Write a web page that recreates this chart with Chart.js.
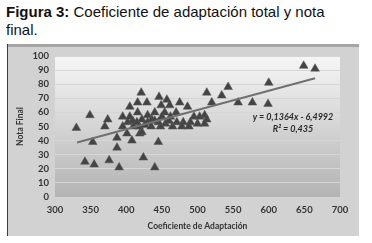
<!DOCTYPE html>
<html>
<head>
<meta charset="utf-8">
<style>
    body {
        margin: 0;
        width: 372px;
        height: 243px;
        overflow: hidden;
        position: relative;
        background: #fff;
        font-family: "Liberation Sans", Arial, sans-serif;
    }
    #caption {
        position: absolute;
        left: 6px;
        top: 3px;
        font-size: 15px;
        line-height: 18px;
        color: #111;
    }
    #frame {
        position: absolute;
        left: 7px;
        top: 44px;
        width: 352px;
        height: 192px;
        background: #d2d2d2;
        box-shadow: inset 1px 0 0 #3c3c3c, inset 0 3px 0 #a5a5a5;
    }
</style>
<script src="https://cdn.jsdelivr.net/npm/chart.js"></script>
</head>
<body>
<div id="caption"><b>Figura 3:</b> Coeficiente de adaptación total y nota<br>final.</div>
<div id="frame"><canvas id="myChart" width="352" height="192"></canvas></div>
<script>
// values
var coefAdaptacion = [
    330, 349, 353, 342, 355, 376, 390, 424, 440, 387, 387, 408, 445, 370, 374, 395, 402, 401, 419, 422,
    421, 416, 429, 405, 416, 446, 457, 449, 461, 475, 486, 454, 470,
    409, 415, 422, 430, 436, 440, 445, 410, 418, 426, 435, 448, 455, 460, 465, 471, 480, 490, 478, 488,
    395, 405, 430, 440, 450, 462, 495, 500,
    503, 510, 513, 510, 513, 534, 543, 557, 577, 599, 600, 649, 665, 520
];
var notaFinal = [
    49, 58, 39, 25, 23, 26, 21, 28, 21, 42, 35, 40, 39, 50, 55, 57, 53, 45, 45, 46,
    74, 67, 67, 64, 60, 71, 69, 65, 65, 67, 64, 60, 60,
    54, 53, 55, 53, 55, 54, 53, 50, 50, 51, 50, 50, 52, 54, 50, 53, 53, 53, 50, 50,
    50, 57, 58, 60, 57, 57, 57, 52,
    57, 58, 55, 52, 74, 72, 78, 67, 67, 66, 81, 93, 91, 67
];
// trendline ends as drawn
var trendX = [331, 665];
var trendY = [38.6, 84.2];
var xTicks = [300, 350, 400, 450, 500, 550, 600, 650, 700];
var yTicks = [0, 10, 20, 30, 40, 50, 60, 70, 80, 90, 100];
var equationLines = ['y = 0,1364x - 6,4992', 'R² = 0,435'];

var points = coefAdaptacion.map(function(x, i) { return {x: x, y: notaFinal[i]}; });
var trend = trendX.map(function(x, i) { return {x: x, y: trendY[i]}; });

var plotBg = {
    id: 'plotBg',
    beforeDraw: function(chart) {
        var ctx = chart.ctx, a = chart.chartArea;
        var g = ctx.createLinearGradient(0, a.top, 0, a.bottom);
        g.addColorStop(0, '#f6f6f6');
        g.addColorStop(1, '#b3b3b3');
        ctx.save();
        ctx.fillStyle = g;
        ctx.fillRect(a.left, a.top, a.right - a.left, a.bottom - a.top);
        ctx.restore();
    }
};

var equation = {
    id: 'equation',
    afterDatasetsDraw: function(chart) {
        var ctx = chart.ctx;
        var cx = chart.scales.x.getPixelForValue(634);
        ctx.save();
        ctx.font = 'italic bold 9px Lato';
        ctx.fillStyle = '#2a2a2a';
        ctx.textAlign = 'center';
        ctx.textBaseline = 'middle';
        ctx.fillText(equationLines[0], cx, chart.scales.y.getPixelForValue(56.7));
        ctx.fillText(equationLines[1], cx, chart.scales.y.getPixelForValue(48.2));
        ctx.restore();
    }
};

var tickFont = {family: 'Lato', size: 9.5, weight: 'bold'};

var ctx = document.getElementById('myChart').getContext('2d');
var myChart = new Chart(ctx, {
    type: 'scatter',
    data: {
        datasets: [{
            type: 'line',
            data: trend,
            borderColor: '#707070',
            borderWidth: 2,
            pointRadius: 0,
            fill: false,
            order: 0
        }, {
            data: points,
            pointStyle: 'triangle',
            pointRadius: 5,
            backgroundColor: '#444',
            borderColor: '#555',
            borderWidth: 0.5,
            order: 1
        }]
    },
    options: {
        responsive: false,
        animation: false,
        layout: {padding: {top: 12, right: 19, left: 0, bottom: 0}},
        plugins: {legend: {display: false}, tooltip: {enabled: false}},
        scales: {
            x: {
                type: 'linear',
                min: 300,
                max: 700,
                afterBuildTicks: function(s) { s.ticks = xTicks.map(function(v) { return {value: v}; }); },
                afterFit: function(s) { s.height = 39; },
                grid: {display: false, drawTicks: false},
                border: {display: false},
                ticks: {padding: 7, color: '#333', font: tickFont, autoSkip: false, maxRotation: 0},
                title: {
                    display: true,
                    text: 'Coeficiente de Adaptación',
                    color: '#333',
                    font: {family: 'Lato', size: 8.5, weight: 'bold'},
                    padding: {top: 0, bottom: 5}
                }
            },
            y: {
                min: 0,
                max: 100,
                afterBuildTicks: function(s) { s.ticks = yTicks.map(function(v) { return {value: v}; }); },
                afterFit: function(s) { s.width = 48; },
                grid: {color: '#d6d6d6', drawTicks: false},
                border: {display: false},
                ticks: {padding: 6, color: '#333', font: tickFont, autoSkip: false},
                title: {
                    display: true,
                    text: 'Nota Final',
                    color: '#333',
                    font: {family: 'Lato', size: 8.5, weight: 'bold'},
                    padding: {top: 8, bottom: 0}
                }
            }
        }
    },
    plugins: [plotBg, equation]
});
</script>
</body>
</html>
